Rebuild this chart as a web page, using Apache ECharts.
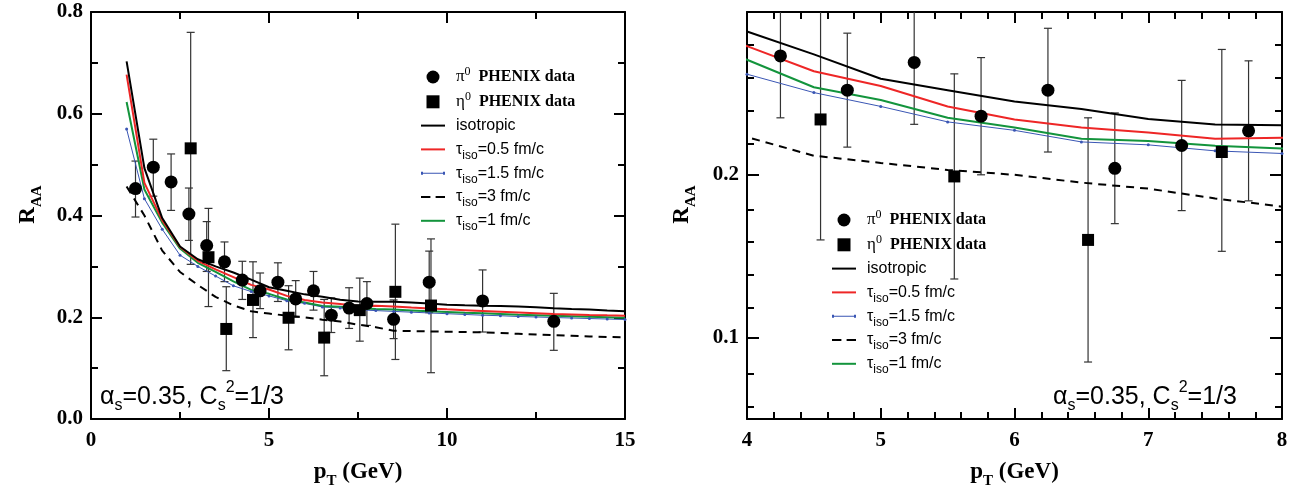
<!DOCTYPE html>
<html>
<head>
<meta charset="utf-8">
<script src="https://cdn.jsdelivr.net/npm/echarts@6/dist/echarts.min.js"></script>
<style>
html, body { margin: 0; padding: 0; background: #fff; }
#chart { width: 1303px; height: 494px; }
</style>
</head>
<body>
<div id="chart"></div>
<script>
// model curves, pT nodes in GeV
const ptNodes = [1, 1.5, 2, 2.5, 3, 3.5, 4, 4.5, 5, 5.5, 6, 6.5, 7, 7.5, 8, 8.5, 9, 9.5, 10, 10.5, 11, 11.5, 12, 12.5, 13, 13.5, 14, 14.5, 15];
const isoRaa = [0.703, 0.493, 0.395, 0.339, 0.314, 0.300, 0.288, 0.274, 0.259, 0.252, 0.245, 0.2404, 0.2343, 0.2309, 0.2305, 0.2305, 0.229, 0.2268, 0.2248, 0.2235, 0.2227, 0.222, 0.2212, 0.2195, 0.2177, 0.2162, 0.215, 0.2133, 0.2117];
const tau05Raa = [0.677, 0.464, 0.391, 0.338, 0.311, 0.294, 0.279, 0.2636, 0.2545, 0.242, 0.234, 0.229, 0.226, 0.2222, 0.2228, 0.221, 0.219, 0.2172, 0.2155, 0.214, 0.2125, 0.211, 0.2095, 0.208, 0.2065, 0.2055, 0.2045, 0.2037, 0.203];
const tau15Raa = [0.570, 0.433, 0.373, 0.322, 0.300, 0.281, 0.2618, 0.2505, 0.242, 0.2325, 0.2273, 0.2202, 0.2184, 0.2147, 0.2131, 0.2115, 0.21, 0.2085, 0.207, 0.2055, 0.204, 0.203, 0.2015, 0.2005, 0.1995, 0.1985, 0.1975, 0.1965, 0.1955];
const tau3Raa = [0.457, 0.400, 0.331, 0.289, 0.2635, 0.240, 0.2232, 0.2117, 0.2073, 0.203, 0.200, 0.1952, 0.1915, 0.1855, 0.1804, 0.1735, 0.1727, 0.1722, 0.1715, 0.171, 0.1703, 0.169, 0.1675, 0.166, 0.1648, 0.1635, 0.1622, 0.1612, 0.1605];
const tau1Raa = [0.623, 0.451, 0.386, 0.335, 0.307, 0.289, 0.2707, 0.2538, 0.246, 0.235, 0.229, 0.2222, 0.2208, 0.2178, 0.2162, 0.215, 0.2135, 0.212, 0.2105, 0.209, 0.2078, 0.2065, 0.205, 0.204, 0.203, 0.202, 0.201, 0.2, 0.199];

// PHENIX pi0
const piPt = [1.25, 1.75, 2.25, 2.75, 3.25, 3.75, 4.25, 4.75, 5.25, 5.75, 6.25, 6.75, 7.25, 7.75, 8.5, 9.5, 11, 13];
const piRaa = [0.453, 0.495, 0.466, 0.403, 0.341, 0.309, 0.273, 0.252, 0.269, 0.236, 0.252, 0.204, 0.218, 0.227, 0.196, 0.269, 0.232, 0.192];
const piLo = [0.397, 0.438, 0.410, 0.351, 0.290, 0.270, 0.235, 0.217, 0.231, 0.200, 0.214, 0.170, 0.178, 0.184, 0.158, 0.209, 0.171, 0.135];
const piHi = [0.507, 0.550, 0.521, 0.454, 0.388, 0.348, 0.310, 0.287, 0.307, 0.272, 0.290, 0.238, 0.258, 0.270, 0.234, 0.330, 0.293, 0.247];

// PHENIX eta
const etaPt = [2.8, 3.3, 3.8, 4.55, 5.55, 6.55, 7.55, 8.55, 9.55];
const etaRaa = [0.532, 0.318, 0.177, 0.234, 0.199, 0.160, 0.214, 0.250, 0.223];
const etaLo = [0.304, 0.221, 0.095, 0.160, 0.136, 0.085, 0.153, 0.117, 0.091];
const etaHi = [0.760, 0.414, 0.260, 0.309, 0.262, 0.235, 0.277, 0.383, 0.354];

// right panel y ticks
const zoomLabels = [0.1, 0.2];
const zoomMinor = [0.06, 0.08, 0.12, 0.14, 0.16, 0.18, 0.22, 0.24, 0.26, 0.28, 0.3];

const SERIF = "'Liberation Serif', 'DejaVu Serif', serif";
const SANS = "'Liberation Sans', Arial, sans-serif";

const names = {
    pi: 'π0 PHENIX data',
    eta: 'η0 PHENIX data',
    iso: 'isotropic',
    t05: 'τiso=0.5 fm/c',
    t15: 'τiso=1.5 fm/c',
    t3: 'τiso=3 fm/c',
    t1: 'τiso=1 fm/c'
};

// trailing {sub| } keeps every legend row the same height
const legendText = {};
legendText[names.pi] = '{sym|π}{sup|0}{bold|  PHENIX data}{sub| }';
legendText[names.eta] = '{sym|η}{sup|0}{bold|  PHENIX data}{sub| }';
legendText[names.iso] = '{sans|isotropic}{sub| }';
legendText[names.t05] = '{sans|τ}{sub|iso}{sans|=0.5 fm/c}';
legendText[names.t15] = '{sans|τ}{sub|iso}{sans|=1.5 fm/c}';
legendText[names.t3] = '{sans|τ}{sub|iso}{sans|=3 fm/c}';
legendText[names.t1] = '{sans|τ}{sub|iso}{sans|=1 fm/c}';

const legendRich = {
    sym: { fontFamily: SERIF, fontSize: 17, lineHeight: 20, color: '#000' },
    sup: { fontFamily: SERIF, fontSize: 12, lineHeight: 1, verticalAlign: 'top', padding: [-1, 0, 0, 0], color: '#000' },
    bold: { fontFamily: SERIF, fontSize: 16, fontWeight: 'bold', lineHeight: 20, color: '#000' },
    sans: { fontFamily: SANS, fontSize: 16, lineHeight: 20, color: '#000' },
    sub: { fontFamily: SANS, fontSize: 12, lineHeight: 1, verticalAlign: 'top', padding: [10, 0, 0, 0], color: '#000' }
};

const squareIcon = 'path://M0,0L10,0L10,10L0,10Z';
const lineIcon = 'path://M0,0L24,0L24,2L0,2Z';
const dashIcon = 'path://M0,0L9,0L9,2L0,2Z M14,0L23,0L23,2L14,2Z';
const dotLineIcon = 'path://M0,1L24,1L24,2L0,2Z M0,0L2,0L2,3L0,3Z M22,0L24,0L24,3L22,3Z';

function makeLegend(left, top) {
    return {
        orient: 'vertical',
        left: left,
        top: top,
        padding: 0,
        itemWidth: 24,
        itemHeight: 13,
        itemGap: 1.8,
        selectedMode: false,
        data: [
            { name: names.pi, icon: 'circle' },
            { name: names.eta, icon: squareIcon },
            { name: names.iso, icon: lineIcon },
            { name: names.t05, icon: lineIcon },
            { name: names.t15, icon: dotLineIcon },
            { name: names.t3, icon: dashIcon },
            { name: names.t1, icon: lineIcon }
        ],
        formatter: function (n) { return legendText[n]; },
        textStyle: { rich: legendRich, padding: [0, 0, 0, 6] }
    };
}

const zip = (xs, ys) => xs.map((x, i) => [x, ys[i]]);
const zip3 = (xs, lo, hi) => xs.map((x, i) => [x, lo[i], hi[i]]);

function errorBars(params, api) {
    const x = api.value(0);
    const lo = api.coord([x, api.value(1)]);
    const hi = api.coord([x, api.value(2)]);
    const w = 4;
    const st = { stroke: '#333', lineWidth: 1.2 };
    return {
        type: 'group',
        children: [
            { type: 'line', shape: { x1: lo[0], y1: lo[1], x2: hi[0], y2: hi[1] }, style: st },
            { type: 'line', shape: { x1: lo[0] - w, y1: lo[1], x2: lo[0] + w, y2: lo[1] }, style: st },
            { type: 'line', shape: { x1: hi[0] - w, y1: hi[1], x2: hi[0] + w, y2: hi[1] }, style: st }
        ]
    };
}

function panelSeries(xi, yi) {
    const base = { xAxisIndex: xi, yAxisIndex: yi };
    return [
        Object.assign({ name: names.t3, type: 'line', data: zip(ptNodes, tau3Raa), symbol: 'none', lineStyle: { color: '#000', width: 2, type: [8, 6] }, itemStyle: { color: '#000' } }, base),
        Object.assign({ name: names.t15, type: 'line', data: zip(ptNodes, tau15Raa), symbol: 'circle', symbolSize: 3, showSymbol: true, lineStyle: { color: '#3a56b4', width: 1 }, itemStyle: { color: '#3a56b4' } }, base),
        Object.assign({ name: names.t1, type: 'line', data: zip(ptNodes, tau1Raa), symbol: 'none', lineStyle: { color: '#13943c', width: 2 }, itemStyle: { color: '#13943c' } }, base),
        Object.assign({ name: names.t05, type: 'line', data: zip(ptNodes, tau05Raa), symbol: 'none', lineStyle: { color: '#ee2626', width: 2 }, itemStyle: { color: '#ee2626' } }, base),
        Object.assign({ name: names.iso, type: 'line', data: zip(ptNodes, isoRaa), symbol: 'none', lineStyle: { color: '#000', width: 2 }, itemStyle: { color: '#000' } }, base),
        Object.assign({ type: 'custom', clip: true, renderItem: errorBars, data: zip3(piPt, piLo, piHi), z: 3 }, base),
        Object.assign({ type: 'custom', clip: true, renderItem: errorBars, data: zip3(etaPt, etaLo, etaHi), z: 3 }, base),
        Object.assign({ name: names.pi, type: 'scatter', data: zip(piPt, piRaa), symbol: 'circle', symbolSize: 13, itemStyle: { color: '#000', opacity: 1 }, z: 4 }, base),
        Object.assign({ name: names.eta, type: 'scatter', data: zip(etaPt, etaRaa), symbol: 'rect', symbolSize: 12, itemStyle: { color: '#000', opacity: 1 }, z: 4 }, base)
    ];
}

const axisNameRich = {
    b: { fontFamily: SERIF, fontSize: 23, fontWeight: 'bold', color: '#000', lineHeight: 26 },
    s: { fontFamily: SERIF, fontSize: 15, fontWeight: 'bold', color: '#000', lineHeight: 1, verticalAlign: 'top', padding: [15, 0, 0, 0] }
};
const tickLabel = { fontFamily: SERIF, fontSize: 21, fontWeight: 'bold', color: '#000' };
const frameLine = { show: true, onZero: false, lineStyle: { color: '#000', width: 2 } };

function xAxisCfg(grid, min, max, interval, split, pos, labels) {
    return {
        type: 'value', gridIndex: grid, position: pos, min: min, max: max, interval: interval,
        axisLine: frameLine,
        axisTick: { show: true, inside: true, length: 11, lineStyle: { color: '#000', width: 2 } },
        minorTick: { show: true, splitNumber: split, length: 7, lineStyle: { color: '#000', width: 2 } },
        axisLabel: labels ? Object.assign({ margin: 11 }, tickLabel) : { show: false },
        splitLine: { show: false },
        name: labels ? '{b|p}{s|T}{b| (GeV)}' : '',
        nameLocation: 'middle',
        nameGap: 40,
        nameTextStyle: { rich: axisNameRich }
    };
}

const annoText = '{t|α}{s|s}{t|=0.35, C}{s|s}{p|2}{t|=1/3}';
const annoRich = {
    t: { fontFamily: SANS, fontSize: 25, lineHeight: 36, color: '#000' },
    s: { fontFamily: SANS, fontSize: 16, lineHeight: 1, verticalAlign: 'top', padding: [19, 0, 0, 0], color: '#000' },
    p: { fontFamily: SANS, fontSize: 16, lineHeight: 1, verticalAlign: 'top', padding: [1, 0, 0, 0], color: '#000' }
};

const yNameStyle = { rich: axisNameRich, padding: [0, 0, 0, 22] };

const chart = echarts.init(document.getElementById('chart'));
const option = {
    animation: false,
    backgroundColor: '#fff',
    grid: [
        { left: 91, top: 12, width: 534, height: 412 },
        { left: 747, top: 12, width: 535, height: 411 },
        { left: 747, top: 12, width: 535, height: 411 }
    ],
    legend: [makeLegend(421, 66), makeLegend(832, 209)],
    xAxis: [
        xAxisCfg(0, 0, 15, 5, 2, 'bottom', true),
        xAxisCfg(0, 0, 15, 5, 2, 'top', false),
        xAxisCfg(1, 4, 8, 1, 5, 'bottom', true),
        xAxisCfg(1, 4, 8, 1, 5, 'top', false),
        { type: 'value', gridIndex: 2, min: 4, max: 8, show: false }
    ],
    yAxis: [
        {
            type: 'value', gridIndex: 0, position: 'left', min: 0, max: 0.8, interval: 0.2,
            axisLine: frameLine,
            axisTick: { inside: true, length: 11, lineStyle: { color: '#000', width: 2 } },
            minorTick: { show: true, splitNumber: 2, length: 7, lineStyle: { color: '#000', width: 2 } },
            axisLabel: Object.assign({ margin: 8, formatter: v => v.toFixed(1) }, tickLabel),
            splitLine: { show: false },
            name: '{b|R}{s|AA}', nameLocation: 'middle', nameGap: 50, nameRotate: 90,
            nameTextStyle: yNameStyle
        },
        {
            type: 'value', gridIndex: 0, position: 'right', min: 0, max: 0.8, interval: 0.2,
            axisLine: frameLine,
            axisTick: { inside: true, length: 11, lineStyle: { color: '#000', width: 2 } },
            minorTick: { show: true, splitNumber: 2, length: 7, lineStyle: { color: '#000', width: 2 } },
            axisLabel: { show: false },
            splitLine: { show: false }
        },
        {
            type: 'value', gridIndex: 1, position: 'left', min: 0.05, max: 0.3,
            axisLine: frameLine,
            axisTick: { inside: true, length: 12, customValues: zoomLabels, lineStyle: { color: '#000', width: 2 } },
            axisLabel: Object.assign({ margin: 8, customValues: zoomLabels, formatter: v => v.toFixed(1) }, tickLabel),
            splitLine: { show: false },
            name: '{b|R}{s|AA}', nameLocation: 'middle', nameGap: 52, nameRotate: 90,
            nameTextStyle: yNameStyle
        },
        {
            type: 'value', gridIndex: 1, position: 'right', min: 0.05, max: 0.3,
            axisLine: frameLine,
            axisTick: { inside: true, length: 12, customValues: zoomLabels, lineStyle: { color: '#000', width: 2 } },
            axisLabel: { show: false },
            splitLine: { show: false }
        },
        {
            type: 'value', gridIndex: 2, position: 'left', min: 0.05, max: 0.3,
            axisLine: { show: false },
            axisTick: { inside: true, length: 7, customValues: zoomMinor, lineStyle: { color: '#000', width: 2 } },
            axisLabel: { show: false },
            splitLine: { show: false }
        },
        {
            type: 'value', gridIndex: 2, position: 'right', min: 0.05, max: 0.3,
            axisLine: { show: false },
            axisTick: { inside: true, length: 7, customValues: zoomMinor, lineStyle: { color: '#000', width: 2 } },
            axisLabel: { show: false },
            splitLine: { show: false }
        }
    ],
    graphic: [
        { type: 'text', x: 100, y: 397, style: { text: annoText, rich: annoRich, verticalAlign: 'middle' } },
        { type: 'text', x: 1053, y: 397, style: { text: annoText, rich: annoRich, verticalAlign: 'middle' } }
    ],
    series: panelSeries(0, 0).concat(panelSeries(2, 2))
};
chart.setOption(option);
</script>
</body>
</html>
